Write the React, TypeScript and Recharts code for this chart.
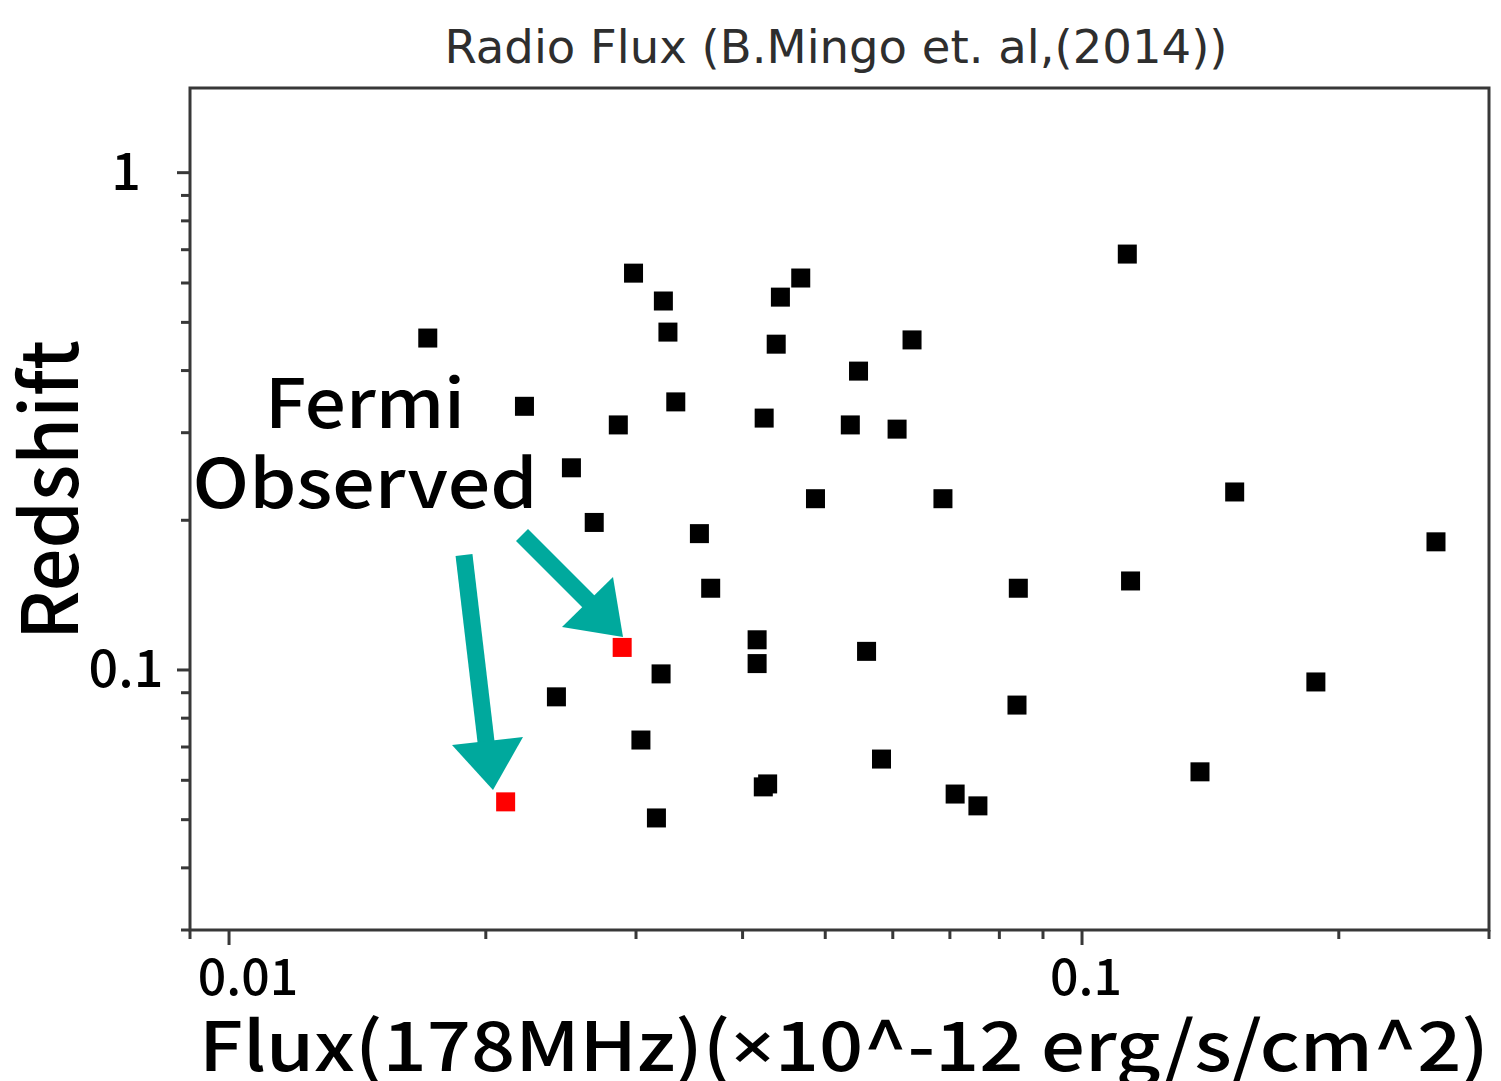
import React from "react";
import {
  ScatterChart,
  Scatter,
  XAxis,
  YAxis,
  ReferenceArea,
} from "recharts";

// 178 MHz flux (x10^-12 erg/s/cm^2) and redshift of each source
const fluxSources = [
  0.0171, 0.0222, 0.0252, 0.0268, 0.0242, 0.0286, 0.0298, 0.0323, 0.0327,
  0.0334, 0.0356, 0.0367, 0.0321, 0.0304, 0.0317, 0.0416, 0.0416, 0.0428,
  0.0423, 0.0424, 0.0438, 0.0443, 0.0468, 0.0487, 0.0547, 0.0535, 0.0559,
  0.0582, 0.0607, 0.0632, 0.0687, 0.071, 0.0755, 0.0842, 0.0839, 0.113,
  0.114, 0.1375, 0.151, 0.188, 0.26,
];
const zSources = [
  0.465, 0.339, 0.255, 0.198, 0.0883, 0.311, 0.628, 0.552, 0.478, 0.346,
  0.188, 0.146, 0.0982, 0.0723, 0.0504, 0.115, 0.103, 0.059, 0.0582, 0.321,
  0.452, 0.562, 0.614, 0.221, 0.399, 0.311, 0.109, 0.0662, 0.305, 0.461,
  0.221, 0.0563, 0.0533, 0.146, 0.085, 0.686, 0.151, 0.0624, 0.228, 0.0946,
  0.181,
];

// sources also seen by Fermi
const fluxFermi = [0.0211, 0.0289];
const zFermi = [0.0543, 0.111];

const xTicks = [
  0.009, 0.01, 0.02, 0.03, 0.04, 0.05, 0.06, 0.07, 0.08, 0.09, 0.1, 0.2, 0.3,
];
const yTicks = [
  0.03, 0.04, 0.05, 0.06, 0.07, 0.08, 0.09, 0.1, 0.2, 0.3, 0.4, 0.5, 0.6,
  0.7, 0.8, 0.9, 1,
];
const xMajor = [0.01, 0.1];
const yMajor = [0.1, 1];
// small nudges on the flux labels
const xLabelShift: Record<string, number> = { "0.01": 19, "0.1": 4 };

const sources = fluxSources.map((f, i) => ({ flux: f, z: zSources[i] }));
const fermi = fluxFermi.map((f, i) => ({ flux: f, z: zFermi[i] }));

const AXIS = "#383838";
const TEAL = "#00a99d";
const LABEL_FONT = "'Noto Sans CJK JP', 'Noto Sans', sans-serif";
const MARKER = 19;

function squareMarker(color: string) {
  return (props: any) => {
    const { cx, cy } = props;
    return (
      <rect
        x={cx - MARKER / 2}
        y={cy - MARKER / 2}
        width={MARKER}
        height={MARKER}
        fill={color}
      />
    );
  };
}

function XTick(props: any) {
  const { x, y, payload } = props;
  const v = payload.value;
  const major = xMajor.includes(v);
  const label = String(v);
  return (
    <g>
      <line
        x1={x}
        y1={y}
        x2={x}
        y2={y + (major ? 15 : 9)}
        stroke={AXIS}
        strokeWidth={3}
      />
      {major && (
        <text
          x={x + (xLabelShift[label] ?? 0)}
          y={y + 65}
          textAnchor="middle"
          fontFamily={LABEL_FONT}
          fontWeight={500}
          fontSize={50}
          fill="#000"
        >
          {label}
        </text>
      )}
    </g>
  );
}

function YTick(props: any) {
  const { x, y, payload } = props;
  const v = payload.value;
  const major = yMajor.includes(v);
  return (
    <g>
      <line
        x1={x - (major ? 13 : 9)}
        y1={y}
        x2={x}
        y2={y}
        stroke={AXIS}
        strokeWidth={3}
      />
      {major && (
        <text
          x={x - 64}
          y={y + 17}
          textAnchor="middle"
          fontFamily={LABEL_FONT}
          fontWeight={500}
          fontSize={52}
          fill="#000"
        >
          {String(v)}
        </text>
      )}
    </g>
  );
}

export default function App() {
  return (
    <div
      style={{
        position: "absolute",
        left: 0,
        top: 0,
        width: 1501,
        height: 1081,
        background: "#fff",
      }}
    >
      <ScatterChart
        width={1501}
        height={1081}
        margin={{ top: 88, right: 12, bottom: 0, left: 0 }}
      >
        <XAxis
          dataKey="flux"
          type="number"
          scale="log"
          domain={[0.009, 0.3]}
          allowDataOverflow
          ticks={xTicks}
          interval={0}
          tick={<XTick />}
          tickLine={false}
          tickSize={0}
          tickMargin={0}
          axisLine={false}
          height={151}
        />
        <YAxis
          dataKey="z"
          type="number"
          scale="log"
          domain={[0.03, 1.48]}
          allowDataOverflow
          ticks={yTicks}
          interval={0}
          tick={<YTick />}
          tickLine={false}
          tickSize={0}
          tickMargin={0}
          axisLine={false}
          width={190}
        />
        <ReferenceArea
          x1={0.009}
          x2={0.3}
          y1={0.03}
          y2={1.48}
          fill="none"
          stroke={AXIS}
          strokeWidth={3}
          ifOverflow="visible"
        />
        <Scatter
          data={sources}
          fill="#000"
          shape={squareMarker("#000")}
          isAnimationActive={false}
        />
        <Scatter
          data={fermi}
          fill="#ff0000"
          shape={squareMarker("#ff0000")}
          isAnimationActive={false}
        />
      </ScatterChart>

      <svg
        width={1501}
        height={1081}
        style={{ position: "absolute", left: 0, top: 0, pointerEvents: "none" }}
      >
        <text
          x={836}
          y={63}
          textAnchor="middle"
          fontFamily="'DejaVu Sans', sans-serif"
          fontSize={46}
          fill="#2e2e2e"
          textLength={783}
          lengthAdjust="spacingAndGlyphs"
        >
          Radio Flux (B.Mingo et. al,(2014))
        </text>

        <text
          transform="translate(78, 490) rotate(-90)"
          textAnchor="middle"
          fontFamily={LABEL_FONT}
          fontWeight={500}
          fontSize={78}
          fill="#000"
          textLength={300}
          lengthAdjust="spacingAndGlyphs"
        >
          Redshift
        </text>

        <text
          x={199}
          y={1071}
          fontFamily={LABEL_FONT}
          fontWeight={500}
          fontSize={68}
          fill="#000"
          textLength={1290}
          lengthAdjust="spacingAndGlyphs"
        >
          Flux(178MHz)(<tspan fontFamily="'Noto Sans', sans-serif">×</tspan>10^-12 erg/s/cm^2)
        </text>

        <text
          x={365}
          y={428}
          textAnchor="middle"
          fontFamily={LABEL_FONT}
          fontWeight={500}
          fontSize={68}
          fill="#000"
          textLength={200}
          lengthAdjust="spacingAndGlyphs"
        >
          Fermi
        </text>
        <text
          x={365}
          y={508}
          textAnchor="middle"
          fontFamily={LABEL_FONT}
          fontWeight={500}
          fontSize={68}
          fill="#000"
          textLength={345}
          lengthAdjust="spacingAndGlyphs"
        >
          Observed
        </text>

        {/* pointer arrows to the two Fermi sources */}
        <line x1={464} y1={555} x2={487} y2={750} stroke={TEAL} strokeWidth={17} />
        <polygon points="452,745 523,737 493,790" fill={TEAL} />
        <line x1={522} y1={535} x2={592} y2={605} stroke={TEAL} strokeWidth={17} />
        <polygon points="562,627 613,577 623,637" fill={TEAL} />
      </svg>
    </div>
  );
}
